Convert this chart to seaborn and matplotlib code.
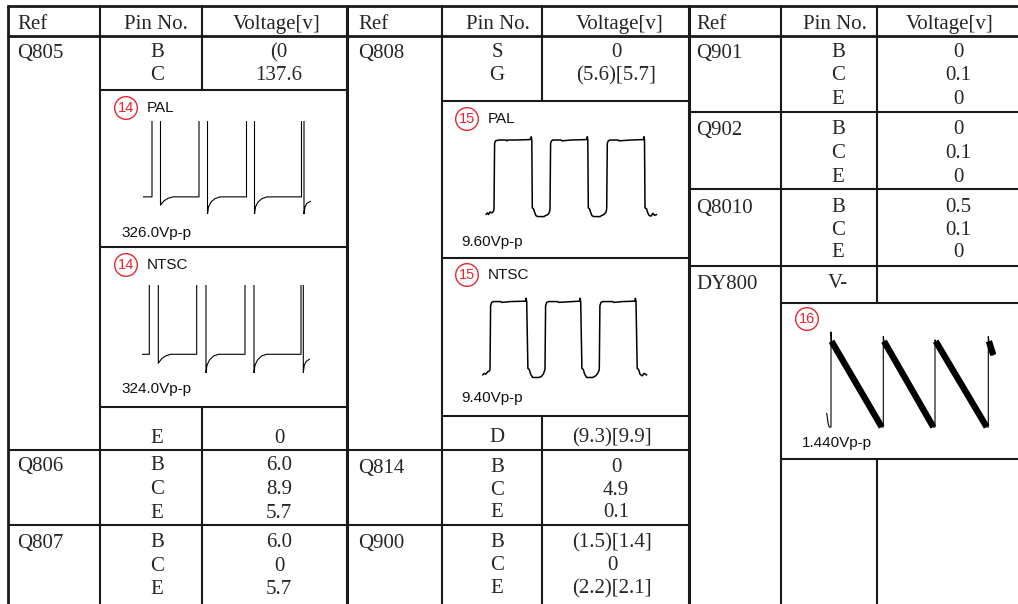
import matplotlib
matplotlib.use("Agg")
import matplotlib.pyplot as plt
import seaborn as sns
import pandas as pd

# ------------------------------------------------------------------ data
headers = ["Ref", "Pin No.", "Voltage[v]"]

q805_pins = ["B", "C"]
q805_volts = ["(0", "137.6"]
q805_pins_low = ["E"]
q805_volts_low = ["0"]
q806_pins = ["B", "C", "E"]
q806_volts = ["6.0", "8.9", "5.7"]
q807_pins = ["B", "C", "E"]
q807_volts = ["6.0", "0", "5.7"]

q808_pins = ["S", "G"]
q808_volts = ["0", "(5.6)[5.7]"]
q808_pins_low = ["D"]
q808_volts_low = ["(9.3)[9.9]"]
q814_pins = ["B", "C", "E"]
q814_volts = ["0", "4.9", "0.1"]
q900_pins = ["B", "C", "E"]
q900_volts = ["(1.5)[1.4]", "0", "(2.2)[2.1]"]

q901_pins = ["B", "C", "E"]
q901_volts = ["0", "0.1", "0"]
q902_pins = ["B", "C", "E"]
q902_volts = ["0", "0.1", "0"]
q8010_pins = ["B", "C", "E"]
q8010_volts = ["0.5", "0.1", "0"]
dy800_pins = ["V-"]
dy800_volts = [""]

# waveform 14 PAL (326.0 Vp-p), time in arbitrary units, volts
w14pal_t = [0, 9, 9, 17.5, 17.5, 18.5, 21, 25, 30, 56, 56, 64.5, 64.5, 65.5, 68, 72, 77,
            103.5, 103.5, 111.5, 111.5, 112.5, 115, 119, 124, 158.5, 158.5, 161, 161, 162, 164, 168]
w14pal_v = [60, 60, 420, 420, 31, 36, 46, 55, 60, 60, 420, 420, 0, 25, 42, 54, 60,
            60, 420, 420, 0, 25, 42, 54, 60, 60, 420, 420, 0, 25, 38, 45]
# waveform 14 NTSC (324.0 Vp-p)
w14ntsc_t = [0, 7.6, 7.6, 16.6, 16.6, 17.6, 20, 24, 29, 55, 55, 64.3, 64.3, 65.3, 68, 72, 77,
             103.3, 103.3, 112.3, 112.3, 113.3, 116, 120, 125, 159.3, 159.3, 161.6, 161.6, 162.6, 164.5, 168]
w14ntsc_v = [68, 68, 420, 420, 35, 40, 52, 62, 68, 68, 420, 420, 0, 28, 48, 62, 68,
             68, 420, 420, 0, 28, 48, 62, 68, 68, 420, 420, 0, 28, 42, 50]
# waveform 15 PAL (9.60 Vp-p)
w15pal_t = [0, 1.5, 2.5, 4, 6, 7.5, 8, 8.6, 9.5, 11, 13, 20, 21, 22, 30, 44, 45.3, 45.8,
            46.3, 47.5, 48.5, 50, 52, 58, 60, 62, 63.5, 64, 64.6, 65.5, 67, 75, 76, 85, 100.8,
            101.3, 101.8, 102.3, 103.5, 104.5, 106, 108, 114, 116, 118, 120, 120.7, 121.3,
            122.3, 124, 132, 133, 145, 157.5, 158, 158.5, 159, 160.5, 161.5, 163, 165, 167,
            168.5, 170.7]
w15pal_v = [0.3, 0.5, 0.3, 0.6, 0.5, 0.7, 1.0, 8.9, 9.2, 9.25, 9.3, 9.3, 9.2, 9.3, 9.3, 9.35,
            9.7, 9.3, 1.1, 1.0, 0.6, 0.15, 0.05, 0.05, 0.2, 0.3, 0.6, 1.0, 8.9, 9.2, 9.3, 9.3,
            9.2, 9.3, 9.35, 9.7, 9.3, 1.1, 1.0, 0.6, 0.15, 0.05, 0.05, 0.2, 0.3, 0.6, 1.0,
            8.9, 9.2, 9.3, 9.3, 9.2, 9.3, 9.35, 9.7, 9.3, 1.1, 1.0, 0.6, 0.2, 0.1, 0.45, 0.2, 0.3]
# waveform 15 NTSC (9.40 Vp-p)
w15ntsc_t = [0, 1.5, 3, 5, 6.8, 7.3, 7.9, 9, 11, 18, 19, 28, 42.8, 43.4, 44, 45.2, 46.5, 48,
             50, 56, 58.5, 60.5, 61.8, 62.3, 62.9, 64, 66, 75, 76, 90, 96.8, 97.4, 98, 99.2,
             100.5, 102, 104, 110, 113, 115, 116.1, 116.6, 117.2, 118.3, 120, 130, 131, 140,
             152.1, 152.7, 153.3, 154.5, 155.8, 157.3, 159.5, 161.5, 164]
w15ntsc_v = [0.4, 0.6, 0.5, 0.8, 0.9, 1.1, 8.9, 9.3, 9.4, 9.4, 9.3, 9.4, 9.45, 9.8, 9.4, 1.2,
             1.1, 0.5, 0.1, 0.1, 0.2, 0.5, 0.9, 1.1, 8.9, 9.3, 9.4, 9.4, 9.3, 9.4, 9.45, 9.8,
             9.4, 1.2, 1.1, 0.5, 0.1, 0.1, 0.3, 0.6, 0.9, 1.1, 8.9, 9.3, 9.4, 9.4, 9.3, 9.4,
             9.45, 9.8, 9.4, 1.2, 1.1, 0.5, 0.3, 0.6, 0.4]
# waveform 16 sawtooth (1.440 Vp-p): full trace and thick ramp segments
w16_t = [0, 1.5, 2.5, 4.3, 4.3, 4.8, 55, 56.6, 56.6, 57.3, 106.6, 108.3, 108.3, 109,
         160, 161.6, 161.6, 162.2, 166.6]
w16_v = [0.21, 0.05, 0.0, 0.0, 1.44, 1.30, 0.0, 0.0, 1.37, 1.30, 0.0, 0.0, 1.32, 1.30,
         0.0, 0.0, 1.37, 1.30, 1.09]
w16_ramp_t = [4.8, 55, 57.3, 106.6, 109, 160, 162.2, 166.6]
w16_ramp_v = [1.30, 0.0, 1.30, 0.0, 1.30, 0.0, 1.30, 1.09]
w16_ramp_seg = [0, 0, 1, 1, 2, 2, 3, 3]

# ------------------------------------------------------------------ figure
W, H = 1018, 604
sns.set_theme(style="white")
plt.rcParams["font.family"] = ["Liberation Serif", "DejaVu Serif"]
fig = plt.figure(figsize=(W / 100, H / 100), dpi=100)
ax = fig.add_axes([0, 0, 1, 1])
ax.set_xlim(0, W)
ax.set_ylim(H, 0)
ax.axis("off")

LC = "#1a1a1a"
LW = 1.5
RED = "#e8262e"
SERIF = 15
DY = 2.5

def hl(y, x0, x1, lw=LW):
    ax.plot([x0, x1], [y, y], color=LC, lw=lw, solid_capstyle="butt")

def vl(x, y0, y1, lw=LW):
    ax.plot([x, x], [y0, y1], color=LC, lw=lw, solid_capstyle="butt")

# outer / header
hl(6, 7, W, lw=2)
hl(36, 7, W, lw=2)
vl(8, 5, H, lw=2)
vl(347.5, 5, H, lw=2.2)
vl(689, 5, H, lw=2.2)
# block 1
vl(100, 5, H)
vl(202, 5, 90)
vl(202, 407, H)
hl(90, 100, 347)
hl(247, 100, 347)
hl(407, 100, 347)
hl(450, 8, 347)
hl(525, 8, 347)
# block 2
vl(442, 5, H)
vl(542, 5, 101)
vl(542, 416, H)
hl(101, 442, 688)
hl(258, 442, 688)
hl(416, 442, 688)
hl(450, 348, 688)
hl(525, 348, 688)
# block 3
vl(781, 5, H)
vl(877, 5, 303)
vl(877, 459, H)
hl(112, 689, W)
hl(189, 689, W)
hl(266, 689, W)
hl(303, 781, W)
hl(459, 781, W)

# header text
for rx, px, vx in [(17, 156, 277), (358, 498, 620), (696, 835, 950)]:
    ax.text(rx, 22 + DY, headers[0], fontsize=SERIF, ha="left", va="center")
    ax.text(px, 22 + DY, headers[1], fontsize=SERIF, ha="center", va="center")
    ax.text(vx, 22 + DY, headers[2], fontsize=SERIF, ha="center", va="center")

def group(ref, rx, pins, volts, px, vx, ys):
    if ref:
        ax.text(rx, ys[0] + 1 + DY, ref, fontsize=SERIF, ha="left", va="center")
    for p, v, y in zip(pins, volts, ys):
        ax.text(px, y + DY, p, fontsize=SERIF, ha="center", va="center")
        ax.text(vx, y + DY, v, fontsize=SERIF, ha="center", va="center")

group("Q805", 17, q805_pins, q805_volts, 157, 279, [50, 73])
group("", 17, q805_pins_low, q805_volts_low, 157, 279, [436])
group("Q806", 17, q806_pins, q806_volts, 157, 279, [463, 487, 511])
group("Q807", 17, q807_pins, q807_volts, 157, 279, [540, 564, 587])
group("Q808", 358, q808_pins, q808_volts, 497, 616, [50, 73])
group("", 358, q808_pins_low, q808_volts_low, 497, 612, [435])
group("Q814", 358, q814_pins, q814_volts, 497, 616, [465, 488, 510])
group("Q900", 358, q900_pins, q900_volts, 497, 612, [540, 563, 586])
group("Q901", 696, q901_pins, q901_volts, 838, 958, [50, 73, 97])
group("Q902", 696, q902_pins, q902_volts, 838, 958, [127, 151, 175])
group("Q8010", 696, q8010_pins, q8010_volts, 838, 958, [205, 228, 250])
group("DY800", 696, dy800_pins, dy800_volts, 838, 958, [281])

# waveform labels
SANS = ["Liberation Sans", "DejaVu Sans"]
def circ(num, cx, cy):
    ax.text(cx, cy, num, fontsize=10.5, color=RED, ha="center", va="center", family=SANS,
            bbox=dict(boxstyle="circle,pad=0.22", fc="none", ec=RED, lw=1.0))

def label(txt, x, y):
    ax.text(x, y, txt, fontsize=11, ha="left", va="center", family=SANS, color="#111111")

circ("14", 126, 108); label("PAL", 147, 108); label("326.0Vp-p", 121, 233)
circ("14", 126, 265); label("NTSC", 147, 265); label("324.0Vp-p", 121, 389)
circ("15", 467, 119); label("PAL", 488, 119); label("9.60Vp-p", 461, 242)
circ("15", 467, 275); label("NTSC", 488, 275); label("9.40Vp-p", 461, 398)
circ("16", 807, 319); label("1.440Vp-p", 802, 443)

def wave_ax(x0, x1, ytop, ybot, xlim, ylim, pad=3):
    a = fig.add_axes([(x0 - pad) / W, 1 - (ybot + pad) / H,
                      (x1 - x0 + 2 * pad) / W, (ybot - ytop + 2 * pad) / H])
    sx = (xlim[1] - xlim[0]) / (x1 - x0)
    sy = (ylim[1] - ylim[0]) / (ybot - ytop)
    a.set_xlim(xlim[0] - pad * sx, xlim[1] + pad * sx)
    a.set_ylim(ylim[0] - pad * sy, ylim[1] + pad * sy)
    a.axis("off")
    a.patch.set_alpha(0)
    return a

def trace(a, t, v, lw):
    df = pd.DataFrame({"t": t, "v": v})
    sns.lineplot(data=df, x="t", y="v", ax=a, sort=False, estimator=None,
                 color="black", lw=lw)

a = wave_ax(143, 311, 121, 214, (0, 168), (0, 326), pad=0)
trace(a, w14pal_t, w14pal_v, 0.8)
a = wave_ax(141.7, 309.7, 285, 372.7, (0, 168), (0, 324), pad=0)
trace(a, w14ntsc_t, w14ntsc_v, 0.8)
a = wave_ax(486, 656.7, 136.7, 217, (0, 170.7), (0, 9.7))
trace(a, w15pal_t, w15pal_v, 1.1)
a = wave_ax(482.7, 646.7, 298.3, 378.3, (0, 164), (0, 9.8))
trace(a, w15ntsc_t, w15ntsc_v, 1.1)
a = wave_ax(826.7, 993.3, 332, 427, (0, 166.6), (0, 1.44))
trace(a, w16_t, w16_v, 0.8)
ramp = pd.DataFrame({"t": w16_ramp_t, "v": w16_ramp_v, "seg": w16_ramp_seg})
sns.lineplot(data=ramp, x="t", y="v", units="seg", ax=a, sort=False, estimator=None,
             color="black", lw=4.6, solid_capstyle="butt")

fig.savefig("out.png", dpi=100)
